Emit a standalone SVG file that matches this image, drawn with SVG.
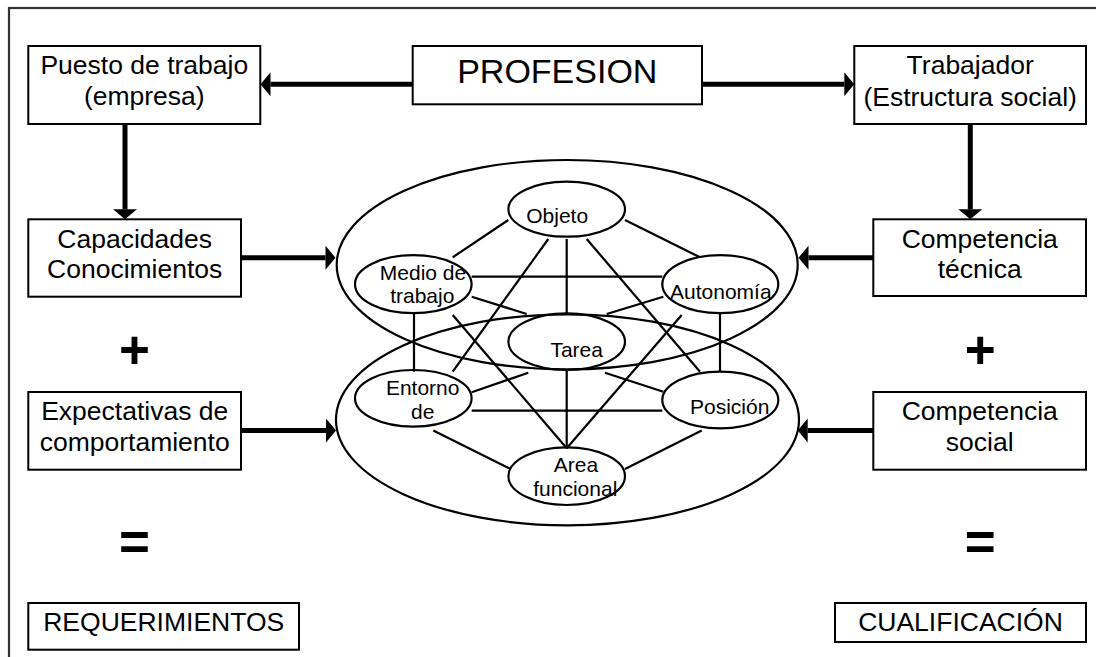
<svg xmlns="http://www.w3.org/2000/svg" width="1096" height="657" viewBox="0 0 1096 657">
<style>
.box{fill:#fff;stroke:#000;stroke-width:2}
.t{font-family:"Liberation Sans",Arial,sans-serif;font-size:26.5px;fill:#000;text-anchor:middle}
.s{font-family:"Liberation Sans",Arial,sans-serif;font-size:21px;fill:#000;text-anchor:middle}
.op{font-family:"Liberation Sans",Arial,sans-serif;font-size:53px;font-weight:bold;fill:#000;text-anchor:middle}
.big{fill:none;stroke:#000;stroke-width:2.2}
.node{fill:none;stroke:#000;stroke-width:2.2}
.ln{stroke:#000;stroke-width:2.2;fill:none}
.arr{stroke:#000;stroke-width:5;fill:none;marker-end:url(#ah)}
</style>
<defs>
<marker id="ah" markerUnits="userSpaceOnUse" viewBox="0 -12 10 24" refX="0" refY="0" markerWidth="10" markerHeight="24" orient="auto" overflow="visible">
<path d="M0,-12 L10,0 L0,12 Z" fill="#000"/>
</marker>
</defs>
<rect width="1096" height="657" fill="#fff"/>
<rect x="9" y="8" width="1110" height="700" fill="none" stroke="#333" stroke-width="2.2"/>

<g id="connectors">
<line class="arr" x1="412.7" y1="84.3" x2="270.5" y2="84.3"/>
<line class="arr" x1="702" y1="84.3" x2="844.3" y2="84.3"/>
<line class="arr" x1="125" y1="124" x2="125" y2="209.3"/>
<line class="arr" x1="970.3" y1="124" x2="970.3" y2="209.3"/>
<line class="arr" x1="241" y1="257.7" x2="325.5" y2="257.7"/>
<line class="arr" x1="873.3" y1="257.7" x2="808.5" y2="257.7"/>
<line class="arr" x1="241" y1="430.5" x2="326" y2="430.5"/>
<line class="arr" x1="873.3" y1="430.5" x2="807.7" y2="430.5"/>
<line class="ln" x1="508.3" y1="220" x2="452.7" y2="257.3"/>
<line class="ln" x1="625" y1="220" x2="700" y2="257.3"/>
<line class="ln" x1="548.3" y1="239" x2="452.7" y2="371.7"/>
<line class="ln" x1="566.7" y1="239" x2="566.7" y2="314"/>
<line class="ln" x1="586.7" y1="239" x2="700" y2="371.7"/>
<line class="ln" x1="471.7" y1="276.7" x2="662.3" y2="276.7"/>
<line class="ln" x1="471.7" y1="296.7" x2="526.7" y2="314"/>
<line class="ln" x1="663.3" y1="296.7" x2="606.7" y2="314"/>
<line class="ln" x1="452.7" y1="315" x2="566.7" y2="448.3"/>
<line class="ln" x1="681.7" y1="315" x2="566.7" y2="448.3"/>
<line class="ln" x1="414" y1="314" x2="414" y2="371.7"/>
<line class="ln" x1="720" y1="314" x2="720" y2="371.7"/>
<line class="ln" x1="566.7" y1="370" x2="566.7" y2="448.3"/>
<line class="ln" x1="528.3" y1="372.7" x2="471.7" y2="392.3"/>
<line class="ln" x1="605" y1="372.7" x2="663.3" y2="391.7"/>
<line class="ln" x1="471.7" y1="410.7" x2="662.3" y2="410.7"/>
<line class="ln" x1="433.3" y1="430.5" x2="510.5" y2="469"/>
<line class="ln" x1="701.7" y1="430.5" x2="625" y2="469"/>
</g>

<g id="group-upper"><ellipse class="big" cx="567.2" cy="264.7" rx="230.5" ry="104.7"/></g>
<g id="group-lower"><ellipse class="big" cx="567.5" cy="419.8" rx="231.5" ry="105.5"/></g>

<g id="profesion"><rect class="box" x="412.7" y="46" width="289.3" height="58.3"/><text class="t" x="557.3" y="82.7" style="font-size:34px">PROFESION</text></g>
<g id="puesto"><rect class="box" x="28.3" y="46" width="232" height="78"/><text class="t" x="144.3" y="74">Puesto de trabajo</text><text class="t" x="144.3" y="104.5">(empresa)</text></g>
<g id="trabajador"><rect class="box" x="854.3" y="46" width="231.7" height="78"/><text class="t" x="970.2" y="74">Trabajador</text><text class="t" x="970.2" y="105.5">(Estructura social)</text></g>
<g id="capacidades"><rect class="box" x="28.3" y="219.3" width="212.7" height="77.4"/><text class="t" x="134.7" y="248.3">Capacidades</text><text class="t" x="134.7" y="278.3">Conocimientos</text></g>
<g id="comp-tecnica"><rect class="box" x="873.3" y="219.3" width="212.7" height="76.7"/><text class="t" x="979.7" y="248.3">Competencia</text><text class="t" x="979.7" y="278.3">técnica</text></g>
<g id="expectativas"><rect class="box" x="28.3" y="392" width="212.7" height="77.7"/><text class="t" x="134.7" y="420.3">Expectativas de</text><text class="t" x="134.7" y="451">comportamiento</text></g>
<g id="comp-social"><rect class="box" x="873.3" y="392" width="212.7" height="77.7"/><text class="t" x="979.7" y="420.3">Competencia</text><text class="t" x="979.7" y="451">social</text></g>
<g id="requerimientos"><rect class="box" x="28.3" y="603" width="270.7" height="46.7"/><text class="t" x="163.7" y="631">REQUERIMIENTOS</text></g>
<g id="cualificacion"><rect class="box" x="835" y="603" width="251" height="39"/><text class="t" x="960.5" y="631">CUALIFICACIÓN</text></g>

<g id="plus-left"><text class="op" x="134.5" y="368.4">+</text></g>
<g id="plus-right"><text class="op" x="980.2" y="368.4">+</text></g>
<g id="eq-left"><text class="op" x="134.5" y="559.5">=</text></g>
<g id="eq-right"><text class="op" x="980.2" y="559.5">=</text></g>

<g id="objeto"><ellipse class="node" cx="566.7" cy="209.2" rx="58.3" ry="27.5"/><text class="s" x="557.2" y="222.7">Objeto</text></g>
<g id="medio"><ellipse class="node" cx="413.3" cy="284.2" rx="58.3" ry="29"/><text class="s" x="423" y="280">Medio de</text><text class="s" x="422.3" y="303.3">trabajo</text></g>
<g id="autonomia"><ellipse class="node" cx="720.3" cy="284.2" rx="58" ry="29"/><text class="s" x="720.8" y="299.3">Autonomía</text></g>
<g id="tarea"><ellipse class="node" cx="566.7" cy="341.7" rx="58.3" ry="28.3"/><text class="s" x="576.7" y="356.7">Tarea</text></g>
<g id="entorno"><ellipse class="node" cx="413.3" cy="398.3" rx="58.3" ry="28.3"/><text class="s" x="422.7" y="395">Entorno</text><text class="s" x="422.7" y="419.3">de</text></g>
<g id="posicion"><ellipse class="node" cx="720.3" cy="400" rx="58" ry="28.3"/><text class="s" x="729.7" y="414.3">Posición</text></g>
<g id="area"><ellipse class="node" cx="566.7" cy="476.2" rx="58.3" ry="28.8"/><text class="s" x="576" y="471.7">Area</text><text class="s" x="575.3" y="496">funcional</text></g>
</svg>
